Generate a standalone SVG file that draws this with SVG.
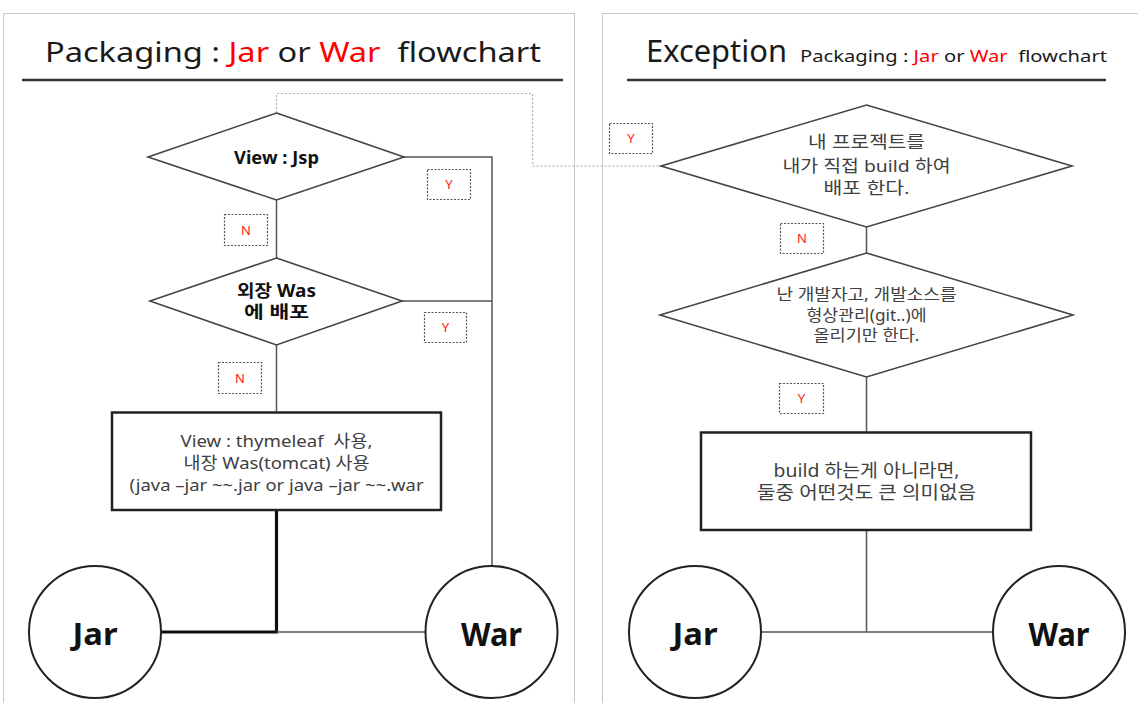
<svg xmlns="http://www.w3.org/2000/svg" width="1138" height="703" viewBox="0 0 1138 703">
<style>
.panel{fill:#fff;stroke:#c8c8c8;stroke-width:1}
.uline{stroke:#333;stroke-width:2.5}
.dia{fill:#fff;stroke:#444;stroke-width:1.6}
.box{fill:#fff;stroke:#222;stroke-width:2.5}
.circ{fill:#fff;stroke:#222;stroke-width:2}
.con{fill:none;stroke:#555;stroke-width:1.5}
.thick{fill:none;stroke:#111;stroke-width:3.2}
.dash{fill:none;stroke:#b0b0b0;stroke-width:1.2;stroke-dasharray:2 2}
.lbl{fill:#fff;stroke:#555;stroke-width:1.2;stroke-dasharray:2 1.5}
.t{font-family:"Noto Sans","Noto Sans CJK KR",sans-serif;fill:#1a1a1a;white-space:pre}
.g{font-family:"Noto Sans","Noto Sans CJK KR",sans-serif;fill:#404040;text-anchor:middle;white-space:pre}
.red{fill:#ff0000}
.lt{font-family:"Noto Sans",sans-serif;fill:#ff2020;font-size:13px;text-anchor:middle}
.big{font-family:"Noto Sans","Noto Sans CJK KR",sans-serif;font-weight:bold;fill:#111;text-anchor:middle}
</style>
<rect width="1138" height="703" fill="#fff"/>
<rect class="panel" x="3.5" y="13.5" width="571" height="700"/>
<rect class="panel" x="602.5" y="13.5" width="540" height="700"/>

<g id="title-left">
<text class="t" x="45" y="62" font-size="28" textLength="496" lengthAdjust="spacingAndGlyphs">Packaging : <tspan class="red">Jar</tspan> or <tspan class="red">War</tspan>  flowchart</text>
<line class="uline" x1="22" y1="80" x2="563" y2="80"/>
</g>
<g id="title-right">
<text class="t" x="646" y="62" font-size="30" textLength="141" lengthAdjust="spacingAndGlyphs">Exception</text>
<text class="t" x="800" y="62" font-size="17" fill="#333" textLength="307" lengthAdjust="spacingAndGlyphs">Packaging : <tspan class="red">Jar</tspan> or <tspan class="red">War</tspan>  flowchart</text>
<line class="uline" x1="627" y1="80" x2="1106" y2="80"/>
</g>

<g id="connectors">
<path class="dash" d="M276.5,113 V93.5 H532.5 V166 H661"/>
<path class="con" d="M404,157 H492 V566"/>
<path class="con" d="M402,301 H492"/>
<path class="con" d="M276.5,200 V258"/>
<path class="con" d="M276.5,345 V412"/>
<path class="thick" d="M276.5,510 V632 H161"/>
<path class="con" d="M276.5,632 H425"/>
<path class="con" d="M866.5,227 V253"/>
<path class="con" d="M866.5,377 V432"/>
<path class="con" d="M866.5,530 V632"/>
<path class="con" d="M761,632 H993"/>
</g>

<g id="lbl-y1"><rect class="lbl" x="427.5" y="169.5" width="43" height="30"/><text class="lt" x="449" y="189">Y</text></g>
<g id="lbl-n1"><rect class="lbl" x="224.5" y="214.5" width="43" height="31"/><text class="lt" x="246" y="235">N</text></g>
<g id="lbl-y2"><rect class="lbl" x="424.5" y="312.5" width="42" height="30"/><text class="lt" x="445.5" y="332">Y</text></g>
<g id="lbl-n2"><rect class="lbl" x="218.5" y="362.5" width="43" height="31"/><text class="lt" x="240" y="383">N</text></g>
<g id="lbl-y3"><rect class="lbl" x="609.5" y="123.5" width="43" height="30"/><text class="lt" x="631" y="143">Y</text></g>
<g id="lbl-n3"><rect class="lbl" x="780.5" y="223.5" width="43" height="30"/><text class="lt" x="802" y="243">N</text></g>
<g id="lbl-y4"><rect class="lbl" x="779.5" y="383.5" width="44" height="30"/><text class="lt" x="801.5" y="403">Y</text></g>

<g id="d-viewjsp">
<polygon class="dia" points="276.5,113 404,157 276.5,200 148,157"/>
<text class="big" x="276.5" y="164" font-size="17" fill="#222" textLength="85" lengthAdjust="spacingAndGlyphs">View : Jsp</text>
</g>
<g id="d-extwas">
<polygon class="dia" points="276.5,258 402,301 276.5,345 150,301"/>
<text class="big" x="276.5" y="297" font-size="17" fill="#222" textLength="79" lengthAdjust="spacingAndGlyphs">외장 Was</text>
<text class="big" x="276.5" y="318" font-size="17" fill="#222" textLength="65" lengthAdjust="spacingAndGlyphs">에 배포</text>
</g>
<g id="b-thymeleaf">
<rect class="box" x="112" y="412.5" width="329" height="97.5"/>
<text class="g" x="276.5" y="447" font-size="17" textLength="192" lengthAdjust="spacingAndGlyphs">View : thymeleaf  사용,</text>
<text class="g" x="276.5" y="469" font-size="17" textLength="186" lengthAdjust="spacingAndGlyphs">내장 Was(tomcat) 사용</text>
<text class="g" x="276.5" y="491" font-size="17" textLength="294" lengthAdjust="spacingAndGlyphs">(java –jar ~~.jar or java –jar ~~.war</text>
</g>
<g id="c-jar-left">
<circle class="circ" cx="95" cy="632" r="66"/>
<text class="big" x="95" y="645" font-size="31" textLength="45" lengthAdjust="spacingAndGlyphs">Jar</text>
</g>
<g id="c-war-left">
<circle class="circ" cx="491.5" cy="632" r="66"/>
<text class="big" x="491.5" y="646" font-size="33" textLength="61" lengthAdjust="spacingAndGlyphs">War</text>
</g>

<g id="d-mybuild">
<polygon class="dia" points="866.5,105 1072,166 866.5,227 661,166"/>
<text class="g" x="866.5" y="148" font-size="17" textLength="117" lengthAdjust="spacingAndGlyphs">내 프로젝트를</text>
<text class="g" x="866.5" y="172" font-size="17" textLength="168" lengthAdjust="spacingAndGlyphs">내가 직접 build 하여</text>
<text class="g" x="866.5" y="194" font-size="17" textLength="86" lengthAdjust="spacingAndGlyphs">배포 한다.</text>
</g>
<g id="d-git">
<polygon class="dia" points="866.5,253 1073,315 866.5,377 660,315"/>
<text class="g" x="866.5" y="300" font-size="16" textLength="180" lengthAdjust="spacingAndGlyphs">난 개발자고, 개발소스를</text>
<text class="g" x="866.5" y="321" font-size="16" textLength="120" lengthAdjust="spacingAndGlyphs">형상관리(git..)에</text>
<text class="g" x="866.5" y="341" font-size="16" textLength="106" lengthAdjust="spacingAndGlyphs">올리기만 한다.</text>
</g>
<g id="b-nobuild">
<rect class="box" x="701" y="432.5" width="330" height="97.5"/>
<text class="g" x="866.5" y="477" font-size="18" textLength="186" lengthAdjust="spacingAndGlyphs">build 하는게 아니라면,</text>
<text class="g" x="866.5" y="499" font-size="18" textLength="219" lengthAdjust="spacingAndGlyphs">둘중 어떤것도 큰 의미없음</text>
</g>
<g id="c-jar-right">
<circle class="circ" cx="695" cy="632" r="66"/>
<text class="big" x="695" y="645" font-size="31" textLength="45" lengthAdjust="spacingAndGlyphs">Jar</text>
</g>
<g id="c-war-right">
<circle class="circ" cx="1059" cy="632" r="66"/>
<text class="big" x="1059" y="646" font-size="33" textLength="61" lengthAdjust="spacingAndGlyphs">War</text>
</g>
</svg>
